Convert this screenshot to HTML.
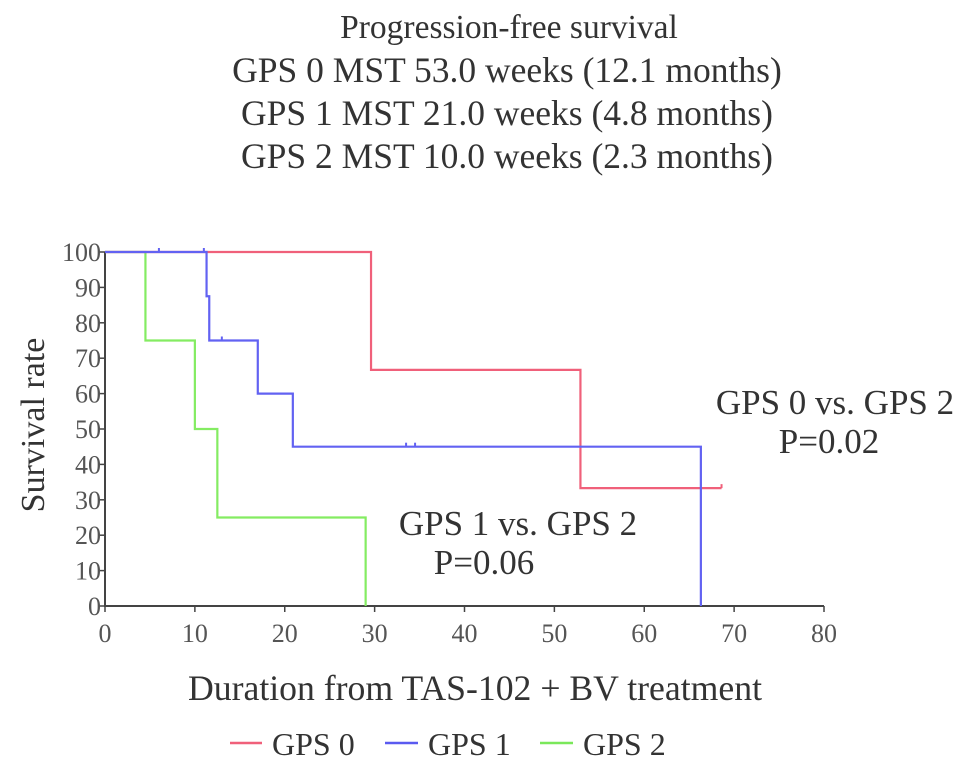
<!DOCTYPE html>
<html><head><meta charset="utf-8"><style>
body{margin:0;background:#fff;width:969px;height:768px;overflow:hidden}
svg text{font-family:"Liberation Serif",serif;fill:#333}
</style></head><body>
<svg id="chart" width="969" height="768" xmlns="http://www.w3.org/2000/svg">
<g text-anchor="middle">
<text x="509" y="38" style="font-size:33.5px">Progression-free survival</text>
<text x="507" y="82" style="font-size:35.5px">GPS 0 MST 53.0 weeks (12.1 months)</text>
<text x="507" y="125" style="font-size:35.5px">GPS 1 MST 21.0 weeks (4.8 months)</text>
<text x="507" y="168" style="font-size:35.5px">GPS 2 MST 10.0 weeks (2.3 months)</text>
</g>
<g id="axes"></g>
<g id="series"></g>
<text transform="translate(44,425) rotate(-90)" text-anchor="middle" style="font-size:34px">Survival rate</text>
<text x="475" y="700" text-anchor="middle" style="font-size:35.7px">Duration from TAS-102 + BV treatment</text>
<text x="835" y="414" text-anchor="middle" style="font-size:35px">GPS 0 vs. GPS 2</text>
<text x="829" y="453" text-anchor="middle" style="font-size:35px">P=0.02</text>
<text x="518" y="535" text-anchor="middle" style="font-size:35px">GPS 1 vs. GPS 2</text>
<text x="484" y="574" text-anchor="middle" style="font-size:35px">P=0.06</text>
<g>
<g><line x1="230" y1="743" x2="262" y2="743" stroke="#f0607a" stroke-width="2.5"/><text x="272" y="755" style="font-size:32px">GPS 0</text></g>
<g><line x1="385" y1="743" x2="418" y2="743" stroke="#5a5af0" stroke-width="2.5"/><text x="428" y="755" style="font-size:32px">GPS 1</text></g>
<g><line x1="540" y1="743" x2="573" y2="743" stroke="#7ae85a" stroke-width="2.5"/><text x="583" y="755" style="font-size:32px">GPS 2</text></g>
</g>
</svg>
<script>
const xTicks=[0,10,20,30,40,50,60,70,80];
const yTicks=[0,10,20,30,40,50,60,70,80,90,100];
const gps0Times=[0,29.6,52.9,68.6];
const gps0Surv=[100,66.7,33.3,33.3];
const gps0Censor=[68.6];
const gps0CensorSurv=[33.3];
const gps1Times=[0,11.3,11.6,17.0,20.9,66.3,66.3];
const gps1Surv=[100,87.5,75,60,45,0,0];
const gps1Censor=[6,11,13,33.5,34.5];
const gps1CensorSurv=[100,100,75,45,45];
const gps2Times=[0,4.5,10,12.5,29,29];
const gps2Surv=[100,75,50,25,0,0];
const x=v=>105+v*(824-105)/80;
const y=v=>606-v*(606-252)/100;
const NS="http://www.w3.org/2000/svg";
function mk(t,a,p){const e=document.createElementNS(NS,t);for(const k in a)e.setAttribute(k,a[k]);p.appendChild(e);return e;}
const ax=document.getElementById('axes');
const yl=mk('line',{x1:105,y1:y(100),x2:105,y2:y(0)+1,stroke:'#444','stroke-width':2},ax);


const xl=mk('line',{x1:104,y1:y(0),x2:x(80),y2:y(0),stroke:'#444','stroke-width':2},ax);


yTicks.forEach(v=>{
 mk('line',{x1:99,y1:y(v),x2:105,y2:y(v),stroke:'#444','stroke-width':1.5},ax);
 const t=mk('text',{x:101,y:y(v)+9,'text-anchor':'end',style:'font-size:26px;fill:#555'},ax);t.textContent=v;
 
 
});
xTicks.forEach(v=>{
 mk('line',{x1:x(v),y1:y(0),x2:x(v),y2:y(0)+6,stroke:'#444','stroke-width':1.5},ax);
 const t=mk('text',{x:x(v),y:y(0)+36,'text-anchor':'middle',style:'font-size:26px;fill:#555'},ax);t.textContent=v;
 
 
});
const sg=document.getElementById('series');
function step(ts,ss,col,name){
 let d='M'+x(ts[0])+','+y(ss[0]);
 for(let i=1;i<ts.length;i++){d+=' L'+x(ts[i])+','+y(ss[i-1])+' L'+x(ts[i])+','+y(ss[i]);}
 const p=mk('path',{d:d,fill:'none',stroke:col,'stroke-width':2.2},sg);
 
 
}
function cens(ts,ss,col){
 ts.forEach((t,i)=>{const c=mk('line',{x1:x(t),y1:y(ss[i])-4,x2:x(t),y2:y(ss[i]),stroke:col,'stroke-width':2},sg);
 
 });
}
step(gps2Times,gps2Surv,'#84ec62','gps2-line');
step(gps0Times,gps0Surv,'#f0607a','gps0-line');
step(gps1Times,gps1Surv,'#6262f2','gps1-line');
cens(gps0Censor,gps0CensorSurv,'#f0607a');
cens(gps1Censor,gps1CensorSurv,'#6262f2');
</script>
</body></html>
